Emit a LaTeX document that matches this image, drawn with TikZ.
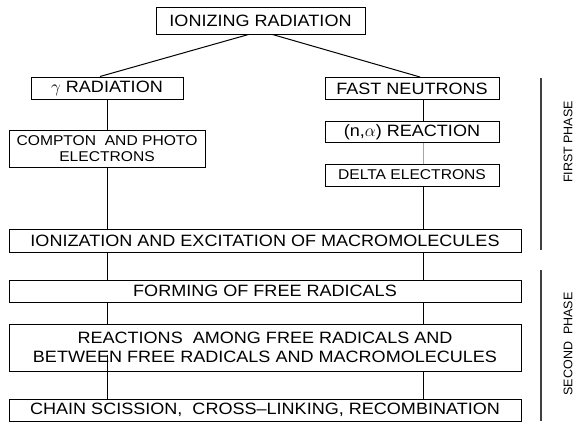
\documentclass[tikz,border=0pt]{standalone}
\usepackage{fontspec}
\setmainfont{Liberation Sans}
\newfontfamily\boxfont[FakeStretch=1.1]{Liberation Sans}
\begin{document}
\begin{tikzpicture}[x=1pt,y=-1pt,
    box/.style={draw, line width=1pt, inner sep=0pt, align=center,
      font=\boxfont\fontsize{16.4}{19}\selectfont},
    smallbox/.style={box, font=\boxfont\fontsize{14.2}{16.5}\selectfont},
    link/.style={line width=1pt},
    phaseline/.style={line width=1.2pt, black!75},
    phaselabel/.style={rotate=90, inner sep=0pt, font=\fontsize{12.5}{14}\selectfont}]
  \useasboundingbox (0,0) rectangle (578,423);
  % columns of the two branches
  \coordinate (lc) at (107,0);
  \coordinate (rc) at (423,0);
  % first phase
  \node[box, minimum width=209pt, minimum height=27pt] (ion) at (260.5,20.5) {IONIZING RADIATION};
  \node[box, minimum width=152pt, minimum height=22pt] (gam) at (107,88) {$\gamma$ RADIATION};
  \node[box, minimum width=174pt, minimum height=22pt] (fast) at (412,88.5) {FAST NEUTRONS};
  \node[smallbox, minimum width=196pt, minimum height=37pt] (compton) at (107,148.5) {COMPTON\ \ AND PHOTO\\ELECTRONS};
  \node[box, minimum width=174pt, minimum height=21pt] (nalpha) at (412,132) {(n,$\alpha$) REACTION};
  \node[smallbox, minimum width=174pt, minimum height=22pt] (delta) at (412,175) {DELTA ELECTRONS};
  \node[box, minimum width=512pt, minimum height=23pt] (ioniz) at (265,240.5) {IONIZATION AND EXCITATION OF MACROMOLECULES};
  % second phase
  \node[box, minimum width=512pt, minimum height=22pt] (form) at (265,291) {FORMING OF FREE RADICALS};
  \node[box, minimum width=512pt, minimum height=47pt] (reac) at (265,347.5) {REACTIONS\ \ AMONG FREE RADICALS AND\\BETWEEN FREE RADICALS AND MACROMOLECULES};
  \node[box, minimum width=512pt, minimum height=22pt] (chain) at (265,410) {CHAIN SCISSION,\ \ CROSS–LINKING, RECOMBINATION};
  % connectors
  \draw[link] ([xshift=-12pt]ion.south) -- ([xshift=-7pt]gam.north);
  \draw[link] ([xshift=12pt]ion.south) -- ([xshift=8pt]fast.north);
  \draw[link] (gam.south) -- (compton.north);
  \draw[link] (compton.south) -- (compton.south |- ioniz.north);
  \draw[link] (fast.south -| rc) -- (nalpha.north -| rc);
  \draw[link, black!35] (nalpha.south -| rc) -- (delta.north -| rc);
  \draw[link] (delta.south -| rc) -- (ioniz.north -| rc);
  \foreach \c in {lc,rc} {
    \draw[link] (ioniz.south -| \c) -- (form.north -| \c);
    \draw[link] (form.south -| \c) -- (reac.north -| \c);
  }
  \draw[link] (reac.south -| lc) ++(0,-17) -- (chain.north -| lc);
  \draw[link] (reac.south -| rc) -- (chain.north -| rc);
  % phases
  \draw[phaseline] (541,78) -- (541,250);
  \draw[phaseline] (541,270) -- (541,421);
  \node[phaselabel] (first) at (568,142) {FIRST PHASE};
  \node[phaselabel] (second) at (568,344) {SECOND\ \ PHASE};
\end{tikzpicture}
\end{document}
